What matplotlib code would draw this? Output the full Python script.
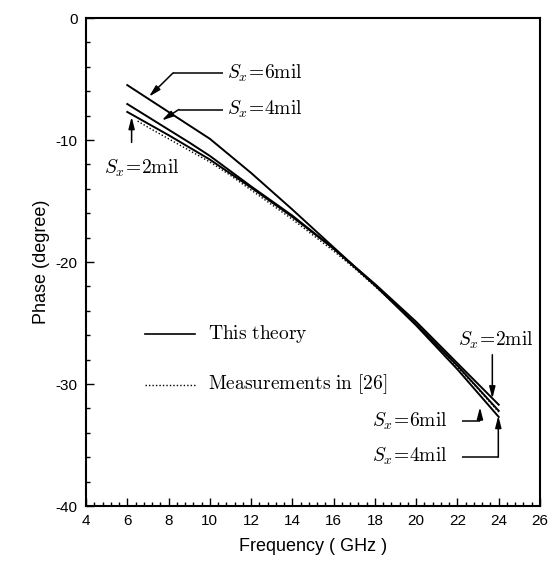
import matplotlib
matplotlib.use("Agg")
import matplotlib.pyplot as plt
from matplotlib.ticker import MultipleLocator

plt.rcParams["axes.unicode_minus"] = False
plt.rcParams["mathtext.fontset"] = "cm"
plt.rcParams["font.family"] = ["Liberation Sans", "DejaVu Sans"]

# Theory curves for the three strip spacings
freq_theory = [6, 8, 9, 10, 12, 14, 16, 18, 20, 22, 24]
phase_6mil = [-5.5, -7.7, -8.8, -9.9, -12.7, -15.7, -18.8, -21.9, -25.1, -28.5, -32.2]
phase_4mil = [-7.05, -9.15, -10.2, -11.3, -13.8, -16.2, -18.9, -21.9, -25.2, -28.8, -32.7]
phase_2mil = [-7.7, -9.6, -10.6, -11.6, -13.9, -16.3, -18.9, -21.8, -24.9, -28.3, -31.7]

# Measured phase
freq_meas = [6.5, 7, 8, 9, 10, 11, 12, 13, 14, 15, 16, 17, 18, 19, 20, 21, 22, 23, 24]
phase_meas = [-8.45, -8.95, -9.9, -10.85, -11.8, -12.9, -14.1, -15.3, -16.5, -17.8,
              -19.1, -20.5, -22.0, -23.5, -25.1, -26.8, -28.6, -30.4, -32.3]

x_ticks = [4, 6, 8, 10, 12, 14, 16, 18, 20, 22, 24, 26]
y_ticks = [0, -10, -20, -30, -40]

fig = plt.figure(figsize=(5.55, 5.63), dpi=100)
ax = fig.add_axes([86 / 555, 1 - 506 / 563, 454 / 555, 488 / 563])

lw = 1.4
ax.plot(freq_theory, phase_6mil, color="black", lw=lw)
ax.plot(freq_theory, phase_4mil, color="black", lw=lw)
ax.plot(freq_theory, phase_2mil, color="black", lw=lw)
ax.plot(freq_meas, phase_meas, color="black", lw=1.0, linestyle=(0, (1, 1.5)))

ax.set_xlim(4, 26)
ax.set_ylim(-40, 0)
ax.set_xticks(x_ticks)
ax.set_yticks(y_ticks)
ax.set_xticklabels([str(t) for t in x_ticks])
ax.set_yticklabels([str(t) for t in y_ticks])
ax.xaxis.set_minor_locator(MultipleLocator(0.4))
ax.yaxis.set_minor_locator(MultipleLocator(2))
ax.tick_params(which="both", direction="in", top=False, right=False, labelsize=11, width=1)
ax.tick_params(which="major", length=6, pad=6)
ax.tick_params(which="minor", length=3)
for s in ax.spines.values():
    s.set_linewidth(1.5)

ax.set_xlabel("Frequency ( GHz )", fontsize=13, labelpad=7)
ax.set_ylabel("Phase (degree)", fontsize=13, labelpad=4)

# Legend drawn by hand
ax.plot([6.86, 9.28], [-25.9, -25.9], color="black", lw=1.2)
ax.text(9.9, -25.9, r"$\mathrm{This\ theory}$", fontsize=14, va="center", ha="left")
ax.plot([6.86, 9.28], [-30.1, -30.1], color="black", lw=1.0, linestyle=(0, (1, 1.5)))
ax.text(9.9, -30.0, r"$\mathrm{Measurements\ in\ [26]}$", fontsize=14, va="center", ha="left")

label_fs = 14
arrow = dict(arrowstyle="-|>,head_length=0.7,head_width=0.18", color="black", lw=1.1,
             shrinkA=0, shrinkB=0)


def spacing_label(mil):
    return r"$S_x\!=\!\mathrm{%dmil}$" % mil


def callout(points, text, tx, ty, ha):
    xs = [p[0] for p in points]
    ys = [p[1] for p in points]
    ax.plot(xs[:-1], ys[:-1], color="black", lw=1.1, solid_capstyle="butt")
    ax.annotate("", xy=points[-1], xytext=points[-2], arrowprops=arrow)
    ax.text(tx, ty, text, fontsize=label_fs, ha=ha, va="center")


callout([(10.64, -4.5), (8.22, -4.5), (7.05, -6.45)], spacing_label(6), 10.85, -4.5, "left")
callout([(10.64, -7.5), (8.5, -7.5), (7.67, -8.4)], spacing_label(4), 10.85, -7.5, "left")
callout([(6.21, -10.2), (6.21, -8.1)], spacing_label(2), 6.7, -12.3, "center")

callout([(23.69, -27.6), (23.69, -31.2)], spacing_label(2), 23.85, -26.4, "center")
callout([(22.2, -33.0), (23.09, -33.0), (23.09, -31.9)], spacing_label(6), 21.5, -33.1, "right")
callout([(22.2, -36.0), (23.98, -36.0), (23.98, -32.6)], spacing_label(4), 21.5, -35.95, "right")

fig.savefig("out.png", dpi=100)
